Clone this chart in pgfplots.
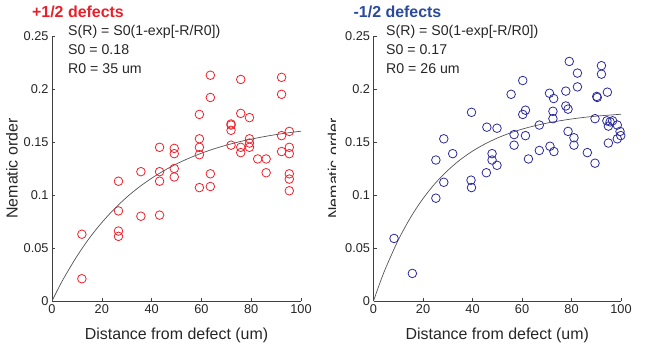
\documentclass[border=0pt]{standalone}
\usepackage{pgfplots}
\pgfplotsset{compat=1.18}
\usepackage{fontspec}
\setmainfont{Liberation Sans}

\definecolor{redmk}{HTML}{F0202A}
\definecolor{bluemk}{HTML}{2A2A9C}
\definecolor{redtitle}{HTML}{E8202A}
\definecolor{bluetitle}{HTML}{2B4A9E}
\definecolor{axgray}{HTML}{404040}
\definecolor{fitgray}{HTML}{555555}
\definecolor{txtgray}{HTML}{262626}

% +1/2 defects: distance (um), nematic order
\pgfplotstableread{
x y
12.0 0.063
12.0 0.021
26.7 0.113
26.7 0.085
26.7 0.066
26.7 0.061
35.7 0.122
35.7 0.080
43.2 0.145
43.2 0.122
43.2 0.113
43.2 0.081
49.1 0.144
49.1 0.139
49.1 0.125
49.1 0.117
59.2 0.176
59.2 0.153
59.2 0.145
59.2 0.138
59.2 0.107
63.6 0.213
63.6 0.192
63.6 0.120
63.6 0.108
71.9 0.167
71.9 0.166
71.9 0.161
71.9 0.147
75.8 0.209
75.8 0.177
75.8 0.145
75.8 0.140
79.3 0.173
79.3 0.153
79.3 0.149
79.3 0.145
82.6 0.134
86.0 0.134
86.0 0.121
92.2 0.211
92.2 0.195
92.2 0.156
92.2 0.141
95.3 0.160
95.3 0.145
95.3 0.139
95.3 0.120
95.3 0.115
95.3 0.104
}\plusdata

% -1/2 defects
\pgfplotstableread{
x y
8.3 0.059
15.7 0.026
25.2 0.133
25.2 0.097
28.4 0.153
28.4 0.112
32.0 0.139
39.6 0.178
39.4 0.114
39.6 0.107
45.8 0.164
45.6 0.121
47.9 0.139
47.9 0.133
49.9 0.163
49.9 0.128
55.6 0.195
56.8 0.157
56.8 0.147
60.3 0.208
60.3 0.176
61.4 0.180
61.4 0.156
62.6 0.134
67.0 0.166
67.0 0.142
71.1 0.196
71.3 0.146
72.8 0.191
72.5 0.179
72.5 0.172
72.9 0.141
77.7 0.198
77.7 0.184
78.6 0.181
78.6 0.160
79.1 0.226
81.0 0.154
81.0 0.147
82.4 0.215
82.4 0.202
86.4 0.140
89.5 0.172
89.5 0.130
90.2 0.193
90.4 0.192
92.1 0.222
92.1 0.214
94.5 0.197
94.3 0.170
94.9 0.165
94.9 0.149
95.6 0.169
96.6 0.170
98.5 0.166
98.5 0.153
99.6 0.160
99.9 0.156
}\minusdata

\pgfplotsset{
  panel/.style={
    scale only axis, width=249bp, height=265bp,
    axis lines=left,
    axis line style={axgray, line width=0.7bp, -},
    xmin=0, xmax=100, ymin=0, ymax=0.25,
    xtick={0,20,40,60,80,100},
    ytick={0,0.05,0.1,0.15,0.2,0.25},
    yticklabels={0,0.05,0.1,0.15,0.2,0.25},
    xticklabels={0,20,40,60,80,100},
    tick align=inside, major tick length=3bp,
    tick style={axgray, line width=0.6bp},
    ticklabel style={font=\fontsize{12.8}{14}\selectfont, text=txtgray},
    label style={font=\fontsize{16}{18}\selectfont, text=txtgray},
    xlabel={Distance from defect (um)},
    ylabel={Nematic order},
    xlabel style={at={(axis description cs:0.5,-0.128)}, anchor=center},
    ylabel style={at={(axis description cs:-0.161,0.5)}, anchor=center},
  },
  pts/.style={only marks, mark=o, mark size=4.3bp, mark options={line width=0.8bp}},
  fit/.style={fitgray, line width=0.7bp, smooth, mark=none},
}

\begin{document}
\begin{tikzpicture}
\path[use as bounding box] (0,0) rectangle (654bp,346bp);

\begin{axis}[panel, at={(52bp,45bp)}, anchor=south west]
  \addplot[fit] coordinates {(0,0) (2.5,0.0117) (5,0.0226) (10,0.0422) (15,0.0593)
    (20,0.0740) (25,0.0868) (30,0.0979) (35,0.1075) (40,0.1158) (45,0.1230)
    (50,0.1293) (55,0.1347) (60,0.1394) (65,0.1435) (70,0.1470) (75,0.1501)
    (80,0.1527) (85,0.1550) (90,0.1570) (95,0.1587) (100,0.1602)};
  \addplot[pts, redmk] table[x=x, y=y] {\plusdata};
\end{axis}

\begin{scope}
\clip (0,0) rectangle (335bp,346bp);
\begin{axis}[panel, at={(373.5bp,45bp)}, anchor=south west, width=247.5bp]
  \addplot[fit] coordinates {(0,0) (2.5,0.0165) (5,0.0315) (10,0.0575) (15,0.0789)
    (20,0.0966) (25,0.1112) (30,0.1232) (35,0.1332) (40,0.1414) (45,0.1481)
    (50,0.1537) (55,0.1583) (60,0.1621) (65,0.1652) (70,0.1678) (75,0.1699)
    (80,0.1717) (85,0.1732) (90,0.1744) (95,0.1753) (100,0.1762)};
\end{axis}
\end{scope}

\begin{axis}[panel, at={(373.5bp,45bp)}, anchor=south west, width=247.5bp, ylabel={}]
  \addplot[fit] coordinates {(0,0) (2.5,0.0165) (5,0.0315) (10,0.0575) (15,0.0789)
    (20,0.0966) (25,0.1112) (30,0.1232) (35,0.1332) (40,0.1414) (45,0.1481)
    (50,0.1537) (55,0.1583) (60,0.1621) (65,0.1652) (70,0.1678) (75,0.1699)
    (80,0.1717) (85,0.1732) (90,0.1744) (95,0.1753) (100,0.1762)};
  \addplot[pts, bluemk] table[x=x, y=y] {\minusdata};
\end{axis}

% titles
\node[font=\bfseries\fontsize{16}{18}\selectfont, text=redtitle] at (78bp,334bp) {+1/2 defects};
\node[font=\bfseries\fontsize{16}{18}\selectfont, text=bluetitle] at (397.5bp,334bp) {-1/2 defects};

% fit annotations
\begin{scope}[every node/.style={font=\fontsize{14.2}{16}\selectfont, text=txtgray, anchor=west, inner sep=0pt}]
\node at (68bp,313.7bp) {S(R) = S0(1-exp[-R/R0])};
\node at (68bp,296bp) {S0 = 0.18};
\node at (68bp,277bp) {R0 = 35 um};
\node at (386bp,313.7bp) {S(R) = S0(1-exp[-R/R0])};
\node at (386bp,296bp) {S0 = 0.17};
\node at (386bp,277bp) {R0 = 26 um};
\end{scope}
\end{tikzpicture}
\end{document}
